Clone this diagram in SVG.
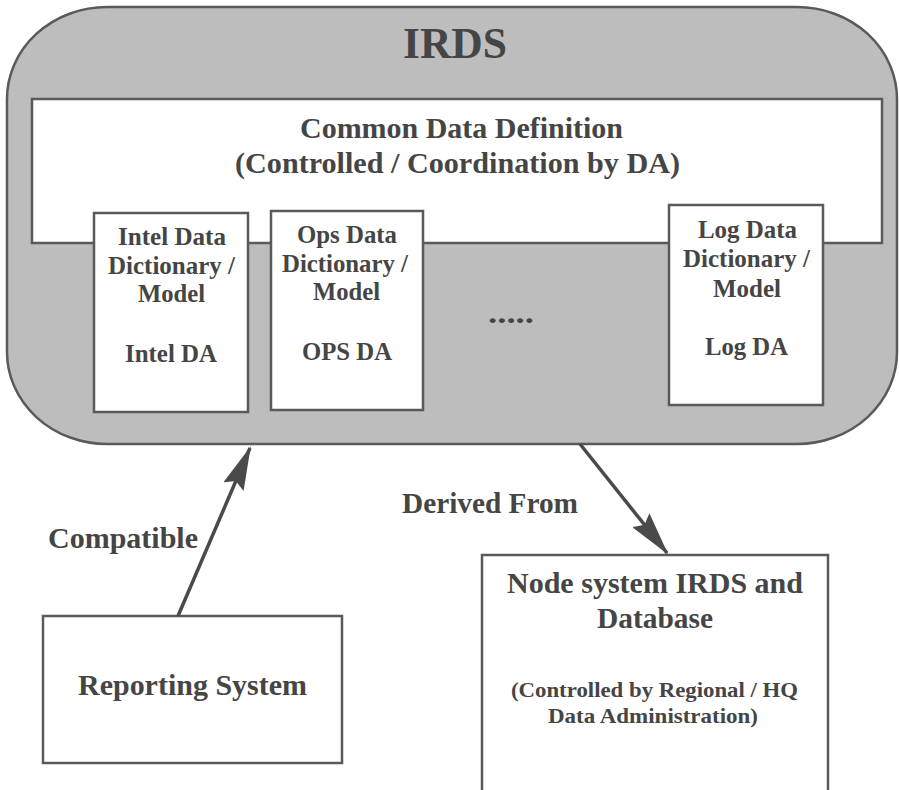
<svg xmlns="http://www.w3.org/2000/svg" width="899" height="790" viewBox="0 0 899 790">
  <style>
    text { font-family: "Liberation Serif", "Times New Roman", serif; font-weight: bold; fill: #454545; text-anchor: middle; }
    .box { fill: #ffffff; stroke: #5a5a5a; stroke-width: 2.5; }
    .irds { fill: #bdbdbd; stroke: #5a5a5a; stroke-width: 2.5; }
    .conn { fill: none; stroke: #4a4a4a; stroke-width: 3.5; }
    .t30 { font-size: 30px; }
    .t25 { font-size: 25px; }
    .t22 { font-size: 22px; }
  </style>
  <defs>
    <marker id="head" markerUnits="userSpaceOnUse" viewBox="0 0 44 22" refX="42" refY="11" markerWidth="44" markerHeight="22" orient="auto">
      <path d="M0,0 L44,11 L0,22 L6,11 Z" fill="#4a4a4a"/>
    </marker>
  </defs>
  <rect width="899" height="790" fill="#ffffff"/>

  <!-- IRDS container -->
  <g id="irds">
    <rect class="irds" x="7" y="7" width="890" height="437" rx="100" ry="92"/>
    <text x="455" y="58" style="font-size:44px" textLength="104" lengthAdjust="spacingAndGlyphs">IRDS</text>
  </g>

  <!-- Common data definition band -->
  <g id="common-data-definition">
    <rect class="box" x="32" y="99" width="850" height="144"/>
    <text class="t30" x="461.5" y="138" textLength="323" lengthAdjust="spacingAndGlyphs">Common Data Definition</text>
    <text class="t30" x="457.5" y="173" textLength="445" lengthAdjust="spacingAndGlyphs">(Controlled / Coordination by DA)</text>
  </g>

  <!-- Functional dictionaries -->
  <g id="intel-dictionary">
    <rect class="box" x="94" y="213" width="154" height="199"/>
    <text class="t25" x="172" y="245" textLength="108" lengthAdjust="spacingAndGlyphs">Intel Data</text>
    <text class="t25" x="171.5" y="274" textLength="127" lengthAdjust="spacingAndGlyphs">Dictionary /</text>
    <text class="t25" x="171.5" y="302" textLength="67" lengthAdjust="spacingAndGlyphs">Model</text>
    <text class="t25" x="171" y="362" textLength="92" lengthAdjust="spacingAndGlyphs">Intel DA</text>
  </g>

  <g id="ops-dictionary">
    <rect class="box" x="271" y="211" width="152" height="199"/>
    <text class="t25" x="347" y="243" textLength="100" lengthAdjust="spacingAndGlyphs">Ops Data</text>
    <text class="t25" x="345" y="272" textLength="126" lengthAdjust="spacingAndGlyphs">Dictionary /</text>
    <text class="t25" x="346.5" y="300" textLength="67" lengthAdjust="spacingAndGlyphs">Model</text>
    <text class="t25" x="347" y="360" textLength="90" lengthAdjust="spacingAndGlyphs">OPS DA</text>
  </g>

  <g id="more-dictionaries">
    <text class="t30" x="511" y="323" textLength="46" lengthAdjust="spacingAndGlyphs">.....</text>
  </g>

  <g id="log-dictionary">
    <rect class="box" x="669" y="205" width="154" height="200"/>
    <text class="t25" x="747.5" y="238" textLength="99" lengthAdjust="spacingAndGlyphs">Log Data</text>
    <text class="t25" x="746.5" y="267" textLength="127" lengthAdjust="spacingAndGlyphs">Dictionary /</text>
    <text class="t25" x="747" y="297" textLength="68" lengthAdjust="spacingAndGlyphs">Model</text>
    <text class="t25" x="746.5" y="355" textLength="83" lengthAdjust="spacingAndGlyphs">Log DA</text>
  </g>

  <!-- Lower systems -->
  <g id="reporting-system">
    <rect class="box" x="43" y="616" width="299" height="147"/>
    <text class="t30" x="192.5" y="695" textLength="229" lengthAdjust="spacingAndGlyphs">Reporting System</text>
  </g>

  <g id="node-system">
    <rect class="box" x="482" y="555" width="346" height="250"/>
    <text class="t30" x="655" y="593" textLength="296" lengthAdjust="spacingAndGlyphs">Node system IRDS and</text>
    <text class="t30" x="655" y="628" textLength="116" lengthAdjust="spacingAndGlyphs">Database</text>
    <text class="t22" x="654.5" y="697" textLength="287" lengthAdjust="spacingAndGlyphs">(Controlled by Regional / HQ</text>
    <text class="t22" x="653" y="723" textLength="210" lengthAdjust="spacingAndGlyphs">Data Administration)</text>
  </g>

  <!-- Connectors -->
  <g id="connectors">
    <line class="conn" x1="178" y1="616" x2="250" y2="448" marker-end="url(#head)"/>
    <text class="t30" x="123" y="548" textLength="150" lengthAdjust="spacingAndGlyphs">Compatible</text>
    <line class="conn" x1="580" y1="444" x2="667" y2="553" marker-end="url(#head)"/>
    <text class="t30" x="490" y="513" textLength="176" lengthAdjust="spacingAndGlyphs">Derived From</text>
  </g>
</svg>
